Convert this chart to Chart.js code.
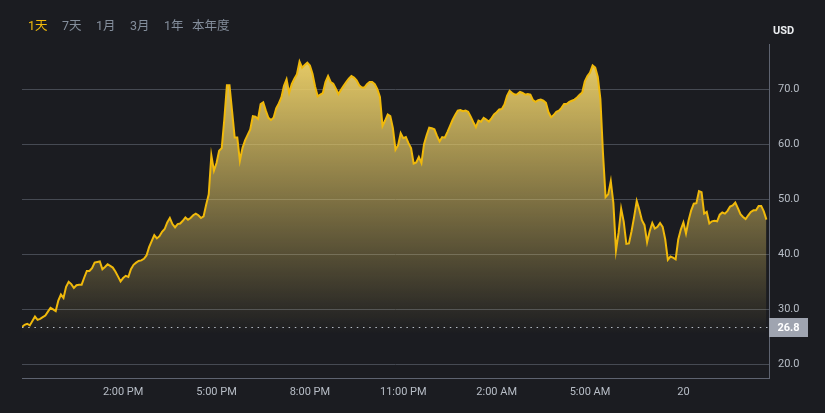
<!DOCTYPE html>
<html lang="zh">
<head>
  <meta charset="UTF-8" />
  <title>价格走势 - 1天</title>
  <script src="https://cdn.jsdelivr.net/npm/chart.js"></script>
  <style>
    html, body {
      margin: 0;
      padding: 0;
      background: #1b1c21;
    }
    body {
      width: 825px;
      height: 413px;
      position: relative;
      overflow: hidden;
      font-family: Roboto, "Noto Sans CJK SC", sans-serif;
    }
    #periodos span {
      position: absolute;
      top: 20px;
      font-size: 12.5px;
      line-height: 1;
      color: #848e9c;
      white-space: nowrap;
    }
    #periodos span:nth-child(1) { left: 28px; color: #f0b90b; }
    #periodos span:nth-child(2) { left: 62px; }
    #periodos span:nth-child(3) { left: 96px; }
    #periodos span:nth-child(4) { left: 130px; }
    #periodos span:nth-child(5) { left: 164px; }
    #periodos span:nth-child(6) { left: 192px; }
    .moneda {
      position: absolute;
      left: 773px;
      top: 24px;
      font-size: 11px;
      font-weight: bold;
      color: #eaecef;
    }
    #grafico {
      position: absolute;
      left: 0;
      top: 0;
    }
  </style>
</head>
<body>
  <canvas id="grafico" width="825" height="413"></canvas>
  <div id="periodos"></div>
  <div class="moneda">USD</div>

  <script>
    // botones de periodo
    const periodos = ['1天', '7天', '1月', '3月', '1年', '本年度'];

    // precio cada 5 minutos, desde las 10:45 AM
    const pasoMin = 5;
    const precios = [
      26.8, 27.2, 27.4, 27.1, 27.9, 28.7, 28.1, 28.3, 28.6, 28.9,
      29.6, 30.3, 30.0, 29.7, 31.6, 32.7, 32.1, 34.1, 35.0, 34.6,
      33.9, 34.4, 34.5, 34.5, 35.8, 37.0, 37.0, 37.5, 38.5, 38.6,
      38.7, 37.3, 37.7, 38.2, 37.9, 37.6, 36.9, 36.0, 35.1, 35.7,
      36.1, 35.9, 37.3, 38.1, 38.5, 38.8, 38.9, 39.2, 39.8, 41.3,
      42.4, 43.5, 42.9, 43.3, 44.1, 44.6, 45.8, 46.6, 45.5, 44.9,
      45.5, 45.6, 46.1, 46.7, 46.3, 46.6, 47.1, 47.4, 47.1, 46.6,
      46.9, 49.0, 50.9, 58.0, 55.2, 56.6, 58.8, 59.3, 64.5, 70.7,
      70.7, 66.0, 61.2, 61.2, 57.0, 59.3, 60.7, 61.7, 62.7, 65.1,
      65.0, 64.6, 67.3, 67.6, 66.1, 64.8, 64.4, 64.8, 66.5, 67.4,
      68.5, 70.6, 71.8, 69.3, 70.9, 71.9, 72.7, 75.0, 73.9, 74.4,
      74.8, 74.3, 72.8, 70.5, 68.7, 69.0, 69.3, 71.3, 72.4, 71.3,
      71.0, 70.1, 69.1, 69.9, 70.6, 71.3, 71.9, 72.4, 72.1, 71.6,
      70.7, 70.3, 70.3, 70.9, 71.3, 71.3, 70.9, 70.0, 68.6, 63.3,
      64.3, 65.4, 65.1, 62.9, 59.0, 59.8, 62.0, 61.1, 61.3, 60.2,
      59.3, 56.5, 56.7, 57.7, 56.6, 60.0, 61.6, 63.0, 62.9, 62.7,
      61.5, 60.5, 61.3, 61.2, 62.2, 63.3, 64.4, 65.3, 66.1, 66.2,
      66.0, 66.1, 65.9, 65.0, 64.0, 63.1, 64.3, 64.1, 64.8, 64.5,
      64.1, 64.7, 65.4, 65.8, 66.3, 66.4, 67.2, 68.8, 69.7, 69.3,
      69.0, 69.1, 69.5, 69.3, 69.0, 69.1, 69.0, 68.0, 67.7, 68.0,
      68.1, 67.9, 67.5, 65.8, 64.9, 65.3, 65.9, 66.1, 66.6, 67.3,
      67.3, 67.7, 67.9, 68.1, 68.5, 69.0, 69.4, 71.4, 72.4, 73.0,
      74.3, 73.9, 72.2, 68.2, 58.3, 50.4, 50.9, 53.3, 49.3, 40.7,
      43.9, 48.3, 45.9, 41.9, 42.0, 44.2, 46.8, 49.7, 48.1, 46.2,
      45.3, 42.2, 44.2, 45.7, 44.7, 45.0, 45.7, 45.0, 42.7, 39.0,
      39.6, 39.4, 39.1, 42.7, 44.5, 45.8, 43.8, 46.2, 48.0, 49.2,
      49.3, 51.5, 51.3, 47.4, 47.7, 45.6, 46.0, 46.1, 46.0, 47.2,
      47.6, 47.4, 47.9, 48.7, 48.9, 49.4, 48.4, 47.3, 46.8, 46.4,
      47.1, 47.7, 48.0, 48.0, 48.8, 48.8, 47.8, 46.3
    ];
    const precioApertura = 26.8;

    // ejes (minutos desde las 10:45 AM)
    const marcasMin = [195, 375, 555, 735, 915, 1095, 1275];
    const marcasTexto = ['2:00 PM', '5:00 PM', '8:00 PM', '11:00 PM', '2:00 AM', '5:00 AM', '20'];
    const nivelesY = [20, 30, 40, 50, 60, 70];

    const contenedor = document.getElementById('periodos');
    periodos.forEach(p => {
      const s = document.createElement('span');
      s.textContent = p;
      contenedor.appendChild(s);
    });

    const lineaApertura = {
      id: 'lineaApertura',
      afterDatasetsDraw(chart) {
        const { ctx, chartArea: a, scales: { y } } = chart;
        const py = Math.round(y.getPixelForValue(precioApertura)) + 0.5;
        ctx.save();
        ctx.strokeStyle = '#b7bdc6';
        ctx.lineWidth = 1;
        ctx.setLineDash([1.5, 4.7]);
        ctx.beginPath();
        ctx.moveTo(a.left, py);
        ctx.lineTo(a.right, py);
        ctx.stroke();
        ctx.setLineDash([]);
        ctx.fillStyle = '#9fa4b0';
        ctx.fillRect(a.right, py - 9.5, 39, 19);
        ctx.fillStyle = '#ffffff';
        ctx.font = 'bold 11px Roboto';
        ctx.textAlign = 'center';
        ctx.textBaseline = 'middle';
        ctx.fillText(precioApertura.toFixed(1), a.right + 19.5, py + 0.5);
        ctx.restore();
      }
    };

    const ctx = document.getElementById('grafico').getContext('2d');
    const degradado = ctx.createLinearGradient(0, 55, 0, 335);
    degradado.addColorStop(0, 'rgba(234,206,104,1)');
    degradado.addColorStop(1, 'rgba(234,206,104,0)');

    new Chart(ctx, {
      type: 'line',
      data: {
        datasets: [{
          data: precios.map((p, i) => ({ x: i * pasoMin, y: p })),
          borderColor: '#f0b90b',
          borderWidth: 2,
          backgroundColor: degradado,
          fill: 'start',
          pointRadius: 0,
          tension: 0
        }]
      },
      options: {
        responsive: false,
        animation: false,
        layout: { padding: { left: 22, top: 44, right: 0, bottom: 0 } },
        plugins: {
          legend: { display: false },
          tooltip: { enabled: false }
        },
        scales: {
          x: {
            type: 'linear',
            min: 0,
            max: 1440,
            grid: { display: false, drawTicks: false },
            border: { color: '#5e6370' },
            ticks: {
              color: '#b7bdc6',
              font: { family: 'Roboto', size: 11 },
              padding: 8,
              maxRotation: 0,
              autoSkip: false,
              callback: (v, i) => marcasTexto[i]
            },
            afterBuildTicks: s => { s.ticks = marcasMin.map(v => ({ value: v })); },
            afterFit: s => { s.height = 35; }
          },
          y: {
            position: 'right',
            min: 17.55,
            max: 78.2,
            grid: { color: '#464a53', drawTicks: false },
            border: { color: '#5e6370' },
            ticks: {
              color: '#b7bdc6',
              font: { family: 'Roboto', size: 11 },
              padding: 9,
              callback: v => v.toFixed(1)
            },
            afterBuildTicks: s => { s.ticks = nivelesY.map(v => ({ value: v })); },
            afterFit: s => { s.width = 56; }
          }
        }
      },
      plugins: [lineaApertura]
    });
  </script>
</body>
</html>
